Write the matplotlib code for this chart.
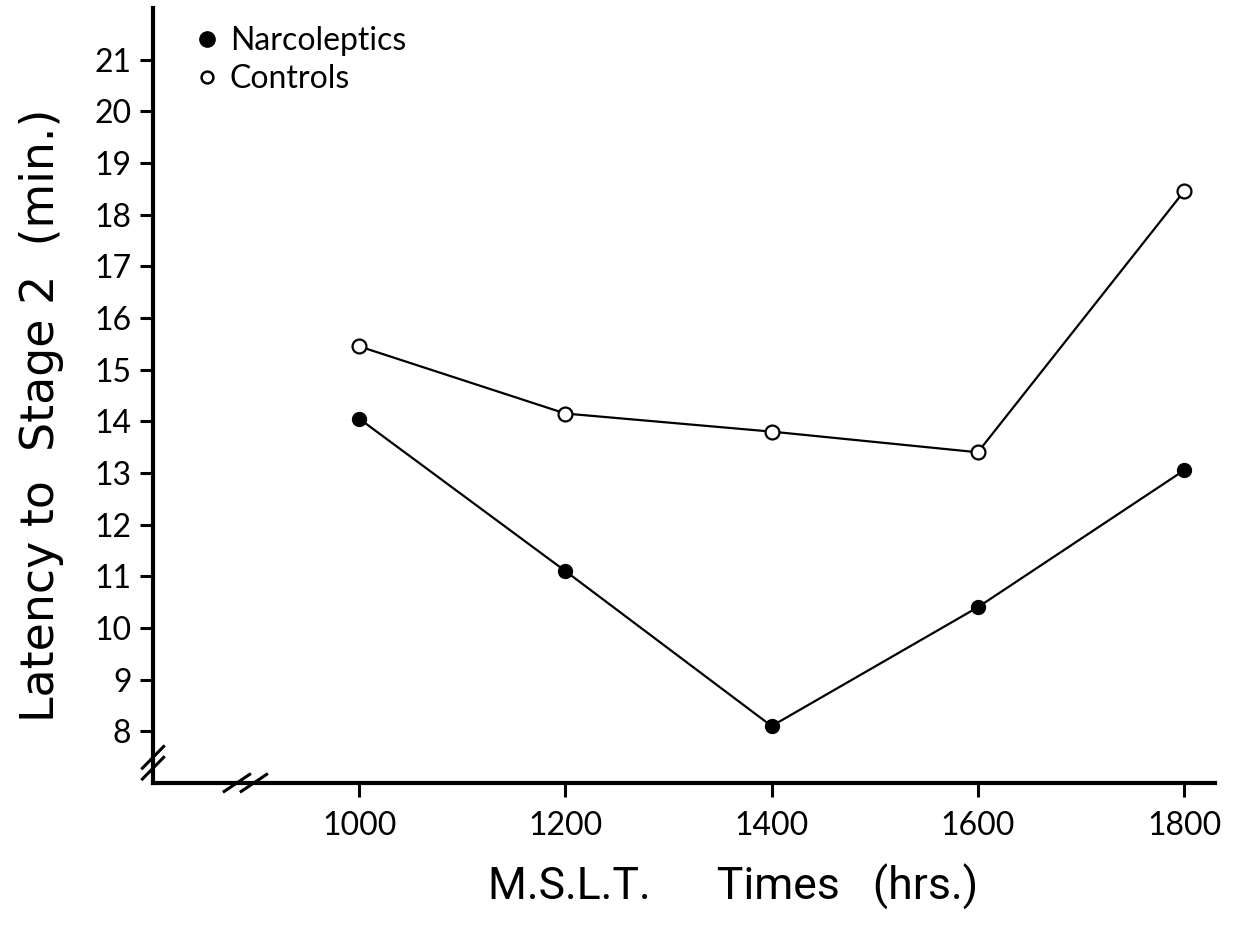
import matplotlib.pyplot as plt
from matplotlib.lines import Line2D

times = [1000, 1200, 1400, 1600, 1800]
narcoleptics = [14.05, 11.1, 8.1, 10.4, 13.05]
controls = [15.45, 14.15, 13.8, 13.4, 18.45]
yticks = list(range(8, 22))

plt.rcParams['font.family'] = ['Lato', 'DejaVu Sans']

fig = plt.figure(figsize=(12.41, 9.41), dpi=100)
ax = fig.add_axes([0.1233, 0.168, 0.8557, 0.8235])

ax.plot(times, narcoleptics, color='black', lw=1.6, marker='o', ms=10,
        mfc='black', mec='black', zorder=3)
ax.plot(times, controls, color='black', lw=1.6, marker='o', ms=10,
        mfc='white', mec='black', mew=1.6, zorder=3)

ax.set_xlim(800, 1830)
ax.set_ylim(7, 22)
ax.set_xticks(times)
ax.set_yticks(yticks)
ax.tick_params(axis='both', labelsize=23, width=2.2)
ax.tick_params(axis='y', length=9.5, pad=6)
ax.tick_params(axis='x', length=10, pad=10)

for s in ['top', 'right']:
    ax.spines[s].set_visible(False)
for s in ['left', 'bottom']:
    ax.spines[s].set_linewidth(3)

# axis break marks
kw = dict(transform=ax.transAxes, color='black', lw=2.2, clip_on=False)
for dy in (-0.007, 0.007):
    ax.plot([-0.01, 0.01], [0.026 + dy - 0.014, 0.026 + dy + 0.014], **kw)
for dx in (-0.008, 0.008):
    ax.plot([0.087 + dx - 0.012, 0.087 + dx + 0.012], [-0.011, 0.011], **kw)

ax.set_ylabel('Latency to  Stage 2  (min.)', fontsize=33,
              family=['DejaVu Sans'])
ax.yaxis.set_label_coords(-0.084, 0.475)
ax.set_xlabel('M.S.L.T.      Times   (hrs.)', fontsize=32, family=['Roboto'])
ax.xaxis.set_label_coords(0.546, -0.105)

handles = [
    Line2D([], [], ls='none', marker='o', ms=11, mfc='black', mec='black'),
    Line2D([], [], ls='none', marker='o', ms=8.5, mfc='white', mec='black', mew=1.8),
]
ax.legend(handles, ['Narcoleptics', 'Controls'], loc='upper left',
          bbox_to_anchor=(0.018, 1.005), frameon=False, fontsize=23,
          handletextpad=0.3, labelspacing=0.25, borderaxespad=0.3,
          handlelength=0.8)

fig.savefig('out.png', dpi=100)
